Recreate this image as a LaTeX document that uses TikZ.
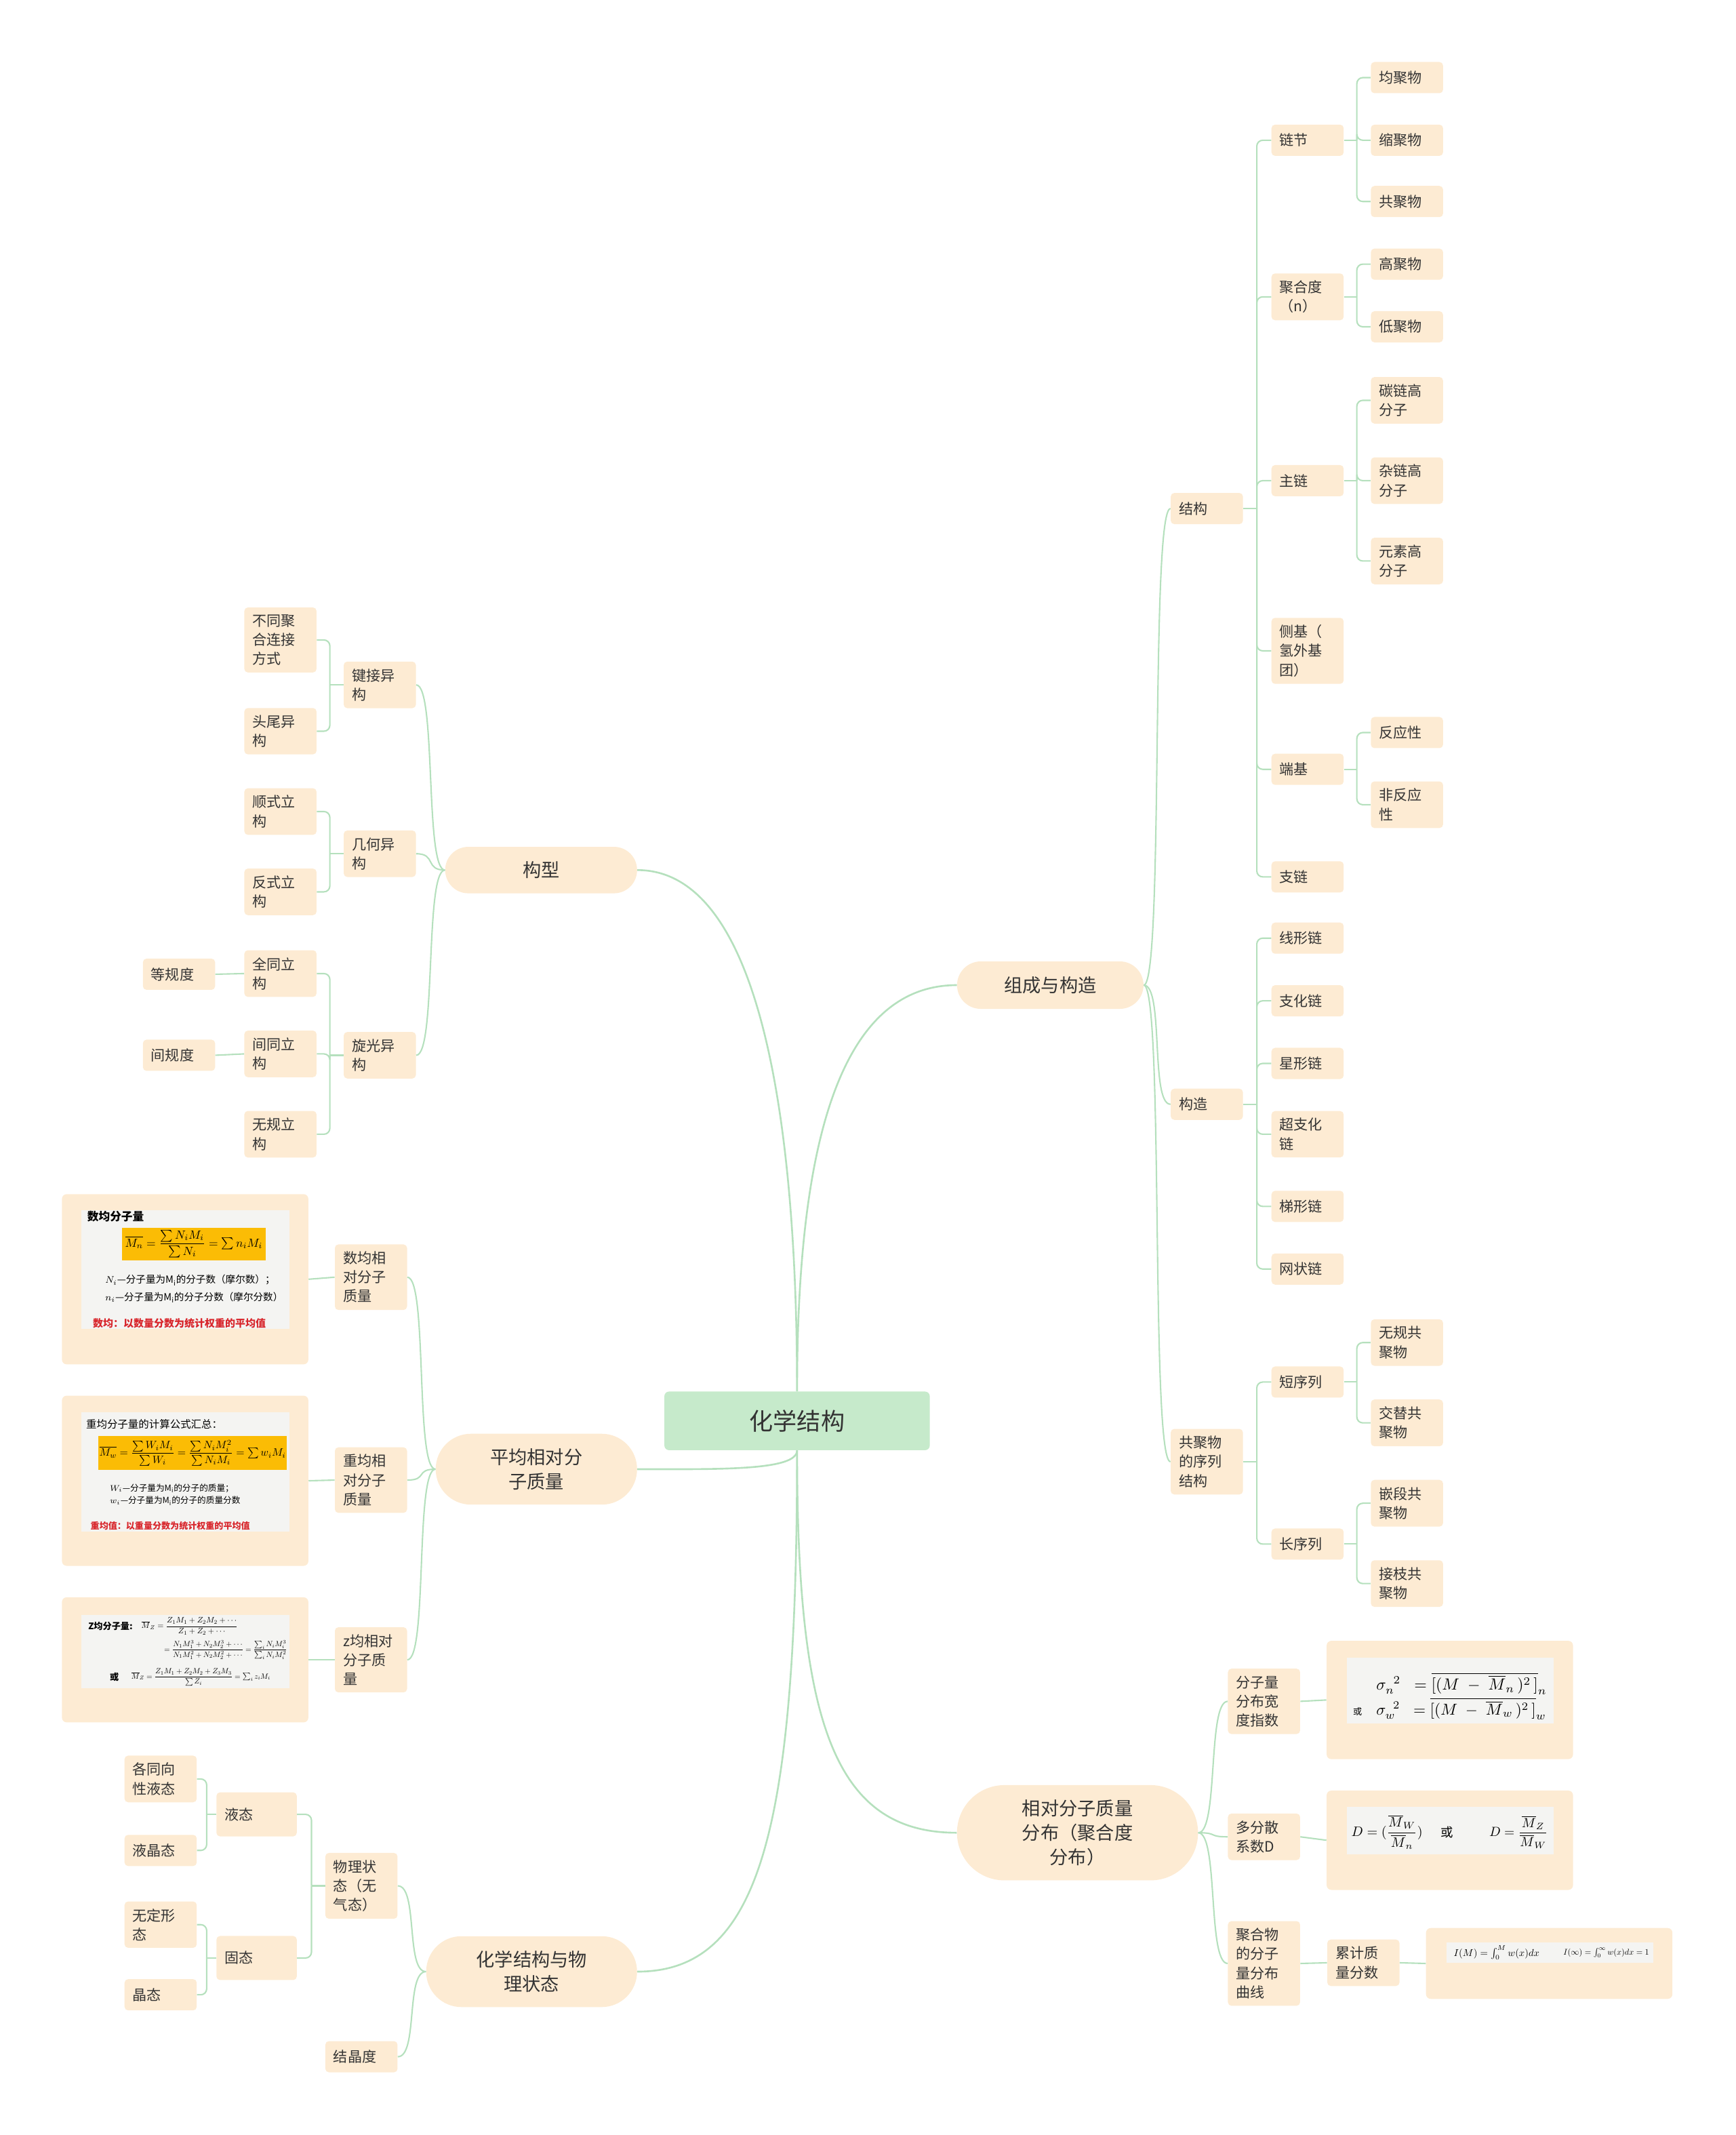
\documentclass[tikz,border=0pt]{standalone}
\usepackage{amsmath}
\usepackage{graphicx}
\usepackage{fontspec}
\setmainfont{Noto Sans CJK SC}
\usetikzlibrary{calc,positioning}
\definecolor{leafc}{HTML}{FDEBD3}
\definecolor{rootc}{HTML}{C6EACB}
\definecolor{linkc}{HTML}{B5E0BD}
\definecolor{panelc}{HTML}{F4F4F2}
\definecolor{hic}{HTML}{FBBC05}
\definecolor{redc}{HTML}{D8262C}
\definecolor{txtc}{HTML}{333333}
\tikzset{
	link/.style={draw=linkc, line width=1.2pt},
	curvy/.style={to path={.. controls +(#1,0) and +(-#1,0) .. (\tikztotarget)}},
	root/.style={fill=rootc, text=txtc, rounded corners=4pt, minimum width=7.83cm, minimum height=1.73cm, font=\fontsize{20}{24}\selectfont},
	topic/.style={fill=leafc, text=txtc, rounded corners=#1, align=center, inner sep=2pt, font=\fontsize{15.5}{20.5}\selectfont},
	leaf/.style={fill=leafc, text=txtc, rounded corners=3pt, text width=1.65cm, inner xsep=0.24cm, inner ysep=6pt, minimum height=0.92cm, align=left, font=\fontsize{12}{16}\selectfont},
	fcard/.style={fill=leafc, rounded corners=4pt, minimum width=7.27cm},
	panel/.style={fill=panelc, inner sep=0pt},
	hi/.style={fill=hic, inner sep=0pt},
	ftxt/.style={anchor=west, inner sep=0pt, text=black}
}
\newcommand{\fw}[2]{\resizebox{#1}{!}{#2}}

\begin{document}
\begin{tikzpicture}[x=0.04016cm,y=-0.04016cm]
	\useasboundingbox (0,0) rectangle (1275,1568);
	\node [root] (root) at (585.5,1043.5) {化学结构};

	% right: composition and construction
	\node [topic=0.7cm, minimum width=5.5cm, minimum height=1.4cm] (zc) at (771.5,723.5) {组成与构造};
	\node [leaf] (jg) at (886.5,373.5) {结构};
	\node [leaf] (gz) at (886.5,811) {构造};
	\node [leaf] (xl) at (886.5,1073.5) {共聚物\\的序列\\结构};
	\node [leaf] (lj) at (960.5,103) {链节};
	\node [leaf] (jhd) at (960.5,218) {聚合度\\（n）};
	\node [leaf] (zl) at (960.5,353) {主链};
	\node [leaf] (cj) at (960.5,478) {侧基（\\氢外基\\团）};
	\node [leaf] (dj) at (960.5,565) {端基};
	\node [leaf] (zhl) at (960.5,644) {支链};
	\node [leaf] (jjw) at (1033.5,57) {均聚物};
	\node [leaf] (sjw) at (1033.5,103) {缩聚物};
	\node [leaf] (gjw) at (1033.5,148) {共聚物};
	\node [leaf] (gao) at (1033.5,194) {高聚物};
	\node [leaf] (di) at (1033.5,240) {低聚物};
	\node [leaf] (tl) at (1033.5,294) {碳链高\\分子};
	\node [leaf] (zal) at (1033.5,353) {杂链高\\分子};
	\node [leaf] (ys) at (1033.5,412) {元素高\\分子};
	\node [leaf] (fy) at (1033.5,538) {反应性};
	\node [leaf] (ffy) at (1033.5,591) {非反应\\性};
	\node [leaf] (xx) at (960.5,689) {线形链};
	\node [leaf] (zh) at (960.5,735) {支化链};
	\node [leaf] (xing) at (960.5,781) {星形链};
	\node [leaf] (czh) at (960.5,833) {超支化\\链};
	\node [leaf] (tx) at (960.5,886) {梯形链};
	\node [leaf] (wz) at (960.5,932) {网状链};
	\node [leaf] (dx) at (960.5,1015) {短序列};
	\node [leaf] (cx) at (960.5,1134) {长序列};
	\node [leaf] (wg) at (1033.5,986) {无规共\\聚物};
	\node [leaf] (jt) at (1033.5,1045) {交替共\\聚物};
	\node [leaf] (qd) at (1033.5,1104) {嵌段共\\聚物};
	\node [leaf] (jz) at (1033.5,1163) {接枝共\\聚物};

	% right: distribution
	\node [topic=1.4cm, minimum width=7.11cm, minimum height=2.81cm] (fb) at (791.5,1346) {相对分子质量\\分布（聚合度\\分布）};
	\node [leaf] (fk) at (928.5,1249.5) {分子量\\分布宽\\度指数};
	\node [leaf] (dfs) at (928.5,1349) {多分散\\系数D};
	\node [leaf] (qx) at (928.5,1442) {聚合物\\的分子\\量分布\\曲线};
	\node [leaf] (ljz) at (1001.5,1441.5) {累计质\\量分数};
	\node [fcard, minimum height=3.49cm] (r1) at (1065,1248.5) {};
	\node [panel, minimum width=6.1cm, minimum height=1.94cm] (r1p) at (1065.2,1241.7) {};
	\node [ftxt, align=left, font=\fontsize{10}{21}\selectfont] (r1a) at (993.7,1245.6) {\hspace*{0.687cm}\fw{5.03cm}{$\sigma_{n}^{\;\;2}\;\;=\overline{[(M\;-\;\overline{M}_{n}\,)^{2}\,]}_{n}$}\\\makebox[0.687cm][l]{\fontsize{7.5}{9}\selectfont 或}\fw{5.01cm}{$\sigma_{w}^{\;\;2}\;\;=\overline{[(M\;-\;\overline{M}_{w}\,)^{2}\,]}_{w}$}};
	\node [fcard, minimum height=2.93cm] (r2) at (1065,1351.5) {};
	\node [panel, minimum width=6.1cm, minimum height=1.4cm] (r2p) at (1065.2,1344.6) {};
	\node [ftxt] (r2a) at (992.5,1345.5) {\fw{2.1cm}{$D=(\dfrac{\overline{M}_{W}}{\overline{M}_{n}})$}};
	\node [font=\fontsize{10.5}{12}\selectfont, inner sep=0pt] (r2o) at (1063,1345.5) {或};
	\node [ftxt] (r2b) at (1093.8,1345.5) {\fw{1.73cm}{$D=\dfrac{\overline{M}_{Z}}{\overline{M}_{W}}$}};
	\node [fcard, minimum height=2.09cm] (r3) at (1138,1442) {};
	\node [panel, minimum width=6.1cm, minimum height=0.6cm] (r3p) at (1138.6,1434.1) {};
	\node [ftxt] (r3a) at (1067.7,1434.1) {\fw{2.53cm}{$I(M)=\int_0^M w(x)dx$}};
	\node [ftxt] (r3b) at (1148.2,1434.1) {\fw{2.53cm}{$I(\infty)=\int_0^\infty w(x)dx=1$}};

	% left: configuration
	\node [topic=0.68cm, minimum width=5.66cm, minimum height=1.37cm] (gx) at (397.5,639) {构型};
	\node [leaf] (jj) at (279,503) {键接异\\构};
	\node [leaf] (jh) at (279,627) {几何异\\构};
	\node [leaf] (xg) at (279,775) {旋光异\\构};
	\node [leaf] (bt) at (206,470) {不同聚\\合连接\\方式};
	\node [leaf] (tw) at (206,537) {头尾异\\构};
	\node [leaf] (sh) at (206,596) {顺式立\\构};
	\node [leaf] (fs) at (206,655) {反式立\\构};
	\node [leaf] (qt) at (206,715) {全同立\\构};
	\node [leaf] (jtl) at (206,774) {间同立\\构};
	\node [leaf] (wgl) at (206,833) {无规立\\构};
	\node [leaf] (dg) at (131.5,715.5) {等规度};
	\node [leaf] (jgd) at (131.5,775) {间规度};

	% left: averages
	\node [topic=1.04cm, minimum width=5.94cm, minimum height=2.09cm] (pj) at (394,1079) {平均相对分\\子质量};
	\node [leaf] (sj) at (272.5,938) {数均相\\对分子\\质量};
	\node [leaf] (zj) at (272.5,1087) {重均相\\对分子\\质量};
	\node [leaf] (zz) at (272.5,1219) {z均相对\\分子质\\量};
	\node [fcard, minimum height=5.02cm] (l1) at (136,939.5) {};
	\node [panel, minimum width=6.14cm, minimum height=3.49cm] (l1p) at (136.2,932.5) {};
	\node [ftxt, font=\fontsize{9.5}{11}\selectfont\bfseries] (l1t) at (64,893.4) {数均分子量};
	\node [hi, minimum width=4.24cm, minimum height=0.96cm] (l1f) at (142.4,913.6) {\fw{4.05cm}{$\overline{M_n}=\dfrac{\textstyle\sum N_iM_i}{\textstyle\sum N_i}=\sum n_iM_i$}};
	\node [ftxt, font=\fontsize{8.3}{10}\selectfont] (l1a) at (77.2,940.2) {$N_i$—分子量为M$_\mathrm{i}$的分子数（摩尔数）；};
	\node [ftxt, font=\fontsize{8.3}{10}\selectfont] (l1b) at (77.2,952.7) {$n_i$—分子量为M$_\mathrm{i}$的分子分数（摩尔分数）};
	\node [ftxt, text=redc, font=\bfseries] (l1r) at (68.1,972) {\fw{5.1cm}{数均：以数量分数为统计权重的平均值}};
	\node [fcard, minimum height=5.02cm] (l2) at (136,1087.5) {};
	\node [panel, minimum width=6.14cm, minimum height=3.5cm] (l2p) at (136.2,1081) {};
	\node [ftxt, font=\fontsize{8.8}{10}\selectfont] (l2t) at (63.1,1046) {重均分子量的计算公式汇总：};
	\node [hi, minimum width=5.57cm, minimum height=1cm] (l2f) at (141.5,1067.2) {\fw{5.5cm}{$\overline{M_w}=\dfrac{\textstyle\sum W_iM_i}{\textstyle\sum W_i}=\dfrac{\textstyle\sum N_iM_i^2}{\textstyle\sum N_iM_i}=\sum w_iM_i$}};
	\node [ftxt, font=\fontsize{7.2}{9}\selectfont] (l2a) at (80.5,1093) {$W_i$—分子量为M$_\mathrm{i}$的分子的质量；};
	\node [ftxt, font=\fontsize{7.2}{9}\selectfont] (l2b) at (80.5,1102.1) {$w_i$—分子量为M$_\mathrm{i}$的分子的质量分数};
	\node [ftxt, text=redc, font=\bfseries] (l2r) at (66.4,1120.4) {\fw{4.7cm}{重均值：以重量分数为统计权重的平均值}};
	\node [fcard, minimum height=3.69cm] (l3) at (136,1219) {};
	\node [panel, minimum width=6.14cm, minimum height=2.16cm] (l3p) at (136.2,1213) {};
	\node [ftxt, font=\fontsize{7.5}{9}\selectfont\bfseries] (l3t) at (64.7,1194.4) {Z均分子量:};
	\node [ftxt] (l3a) at (103.7,1194.4) {\fw{2.84cm}{$\overline{M}_{Z}=\dfrac{Z_1M_1+Z_2M_2+\cdots}{Z_1+Z_2+\cdots}$}};
	\node [ftxt] (l3b) at (120.4,1211.8) {\fw{3.63cm}{$=\dfrac{N_1M_1^3+N_2M_2^3+\cdots}{N_1M_1^2+N_2M_2^2+\cdots}=\dfrac{\textstyle\sum_i N_iM_i^3}{\textstyle\sum_i N_iM_i^2}$}};
	\node [font=\fontsize{7.5}{9}\selectfont\bfseries, inner sep=0pt] (l3o) at (84,1231.7) {或};
	\node [ftxt] (l3c) at (96.3,1231.7) {\fw{4.1cm}{$\overline{M}_{Z}=\dfrac{Z_1M_1+Z_2M_2+Z_3M_3}{\textstyle\sum Z_i}=\sum_i z_iM_i$}};

	% left: physical state
	\node [topic=1.04cm, minimum width=6.22cm, minimum height=2.09cm] (wl) at (390.5,1448) {化学结构与物\\理状态};
	\node [leaf] (wz2) at (265.5,1385) {物理状\\态（无\\气态）};
	\node [leaf] (jjd) at (265.5,1510.5) {结晶度};
	\node [leaf, text width=1.89cm, minimum height=1.3cm] (yt) at (188.5,1332.5) {液态};
	\node [leaf, text width=1.89cm, minimum height=1.3cm] (gt) at (188.5,1438) {固态};
	\node [leaf] (gtx) at (118,1306.5) {各同向\\性液态};
	\node [leaf] (yjt) at (118,1359) {液晶态};
	\node [leaf] (wdx) at (118,1413.5) {无定形\\态};
	\node [leaf] (jtt) at (118,1465) {晶态};

	% main branches
	\draw [link, line width=1.5pt] (root.north) .. controls +(0,-200) and +(90,0) .. (gx.east);
	\draw [link, line width=1.5pt] (root.north) .. controls +(0,-170) and +(-90,0) .. (zc.west);
	\draw [link, line width=1.5pt] (root.south) .. controls +(0,15) and +(60,0) .. (pj.east);
	\draw [link, line width=1.5pt] (root.south) .. controls +(0,200) and +(-90,0) .. (fb.west);
	\draw [link, line width=1.5pt] (root.south) .. controls +(0,280) and +(90,0) .. (wl.east);

	\foreach \ch in {jg,gz,xl} \draw [link] (zc.east) to[curvy=15] (\ch.west);
	\foreach \ch in {fk,dfs,qx} \draw [link] (fb.east) to[curvy=15] (\ch.west);
	\foreach \ch in {jj,jh,xg} \draw [link] (gx.west) to[curvy=-15] (\ch.east);
	\foreach \ch in {sj,zj,zz} \draw [link] (pj.west) to[curvy=-15] (\ch.east);
	\foreach \ch in {wz2,jjd} \draw [link] (wl.west) to[curvy=-15] (\ch.east);

	\draw [link] (jg.east) -- ++(10,0) coordinate (t-jg);
	\foreach \ch in {lj,jhd,zl,cj,dj,zhl} \draw [link, rounded corners=5pt] (t-jg) |- (\ch.west);
	\draw [link] (lj.east) -- ++(9.5,0) coordinate (t-lj);
	\foreach \ch in {jjw,sjw,gjw} \draw [link, rounded corners=5pt] (t-lj) |- (\ch.west);
	\draw [link] (jhd.east) -- ++(9.5,0) coordinate (t-jhd);
	\foreach \ch in {gao,di} \draw [link, rounded corners=5pt] (t-jhd) |- (\ch.west);
	\draw [link] (zl.east) -- ++(9.5,0) coordinate (t-zl);
	\foreach \ch in {tl,zal,ys} \draw [link, rounded corners=5pt] (t-zl) |- (\ch.west);
	\draw [link] (dj.east) -- ++(9.5,0) coordinate (t-dj);
	\foreach \ch in {fy,ffy} \draw [link, rounded corners=5pt] (t-dj) |- (\ch.west);
	\draw [link] (gz.east) -- ++(10,0) coordinate (t-gz);
	\foreach \ch in {xx,zh,xing,czh,tx,wz} \draw [link, rounded corners=5pt] (t-gz) |- (\ch.west);
	\draw [link] (xl.east) -- ++(10,0) coordinate (t-xl);
	\foreach \ch in {dx,cx} \draw [link, rounded corners=5pt] (t-xl) |- (\ch.west);
	\draw [link] (dx.east) -- ++(9.5,0) coordinate (t-dx);
	\foreach \ch in {wg,jt} \draw [link, rounded corners=5pt] (t-dx) |- (\ch.west);
	\draw [link] (cx.east) -- ++(9.5,0) coordinate (t-cx);
	\foreach \ch in {qd,jz} \draw [link, rounded corners=5pt] (t-cx) |- (\ch.west);
	\draw [link] (fk.east) -- (r1.west);
	\draw [link] (dfs.east) -- (r2.west);
	\draw [link] (qx.east) -- (ljz.west);
	\draw [link] (ljz.east) -- (r3.west);

	\draw [link] (jj.west) -- ++(-10,0) coordinate (t-jj);
	\foreach \ch in {bt,tw} \draw [link, rounded corners=5pt] (t-jj) |- (\ch.east);
	\draw [link] (jh.west) -- ++(-10,0) coordinate (t-jh);
	\foreach \ch in {sh,fs} \draw [link, rounded corners=5pt] (t-jh) |- (\ch.east);
	\draw [link] (xg.west) -- ++(-10,0) coordinate (t-xg);
	\foreach \ch in {qt,jtl,wgl} \draw [link, rounded corners=5pt] (t-xg) |- (\ch.east);
	\draw [link] (qt.west) -- (dg.east);
	\draw [link] (jtl.west) -- (jgd.east);
	\draw [link] (sj.west) -- (l1.east);
	\draw [link] (zj.west) -- (l2.east);
	\draw [link] (zz.west) -- (l3.east);

	\draw [link] (wz2.west) -- ++(-10,0) coordinate (t-wz2);
	\foreach \ch in {yt,gt} \draw [link, rounded corners=5pt] (t-wz2) |- (\ch.east);
	\draw [link] (yt.west) -- ++(-7,0) coordinate (t-yt);
	\foreach \ch in {gtx,yjt} \draw [link, rounded corners=5pt] (t-yt) |- (\ch.east);
	\draw [link] (gt.west) -- ++(-7,0) coordinate (t-gt);
	\foreach \ch in {wdx,jtt} \draw [link, rounded corners=5pt] (t-gt) |- (\ch.east);
\end{tikzpicture}
\end{document}
